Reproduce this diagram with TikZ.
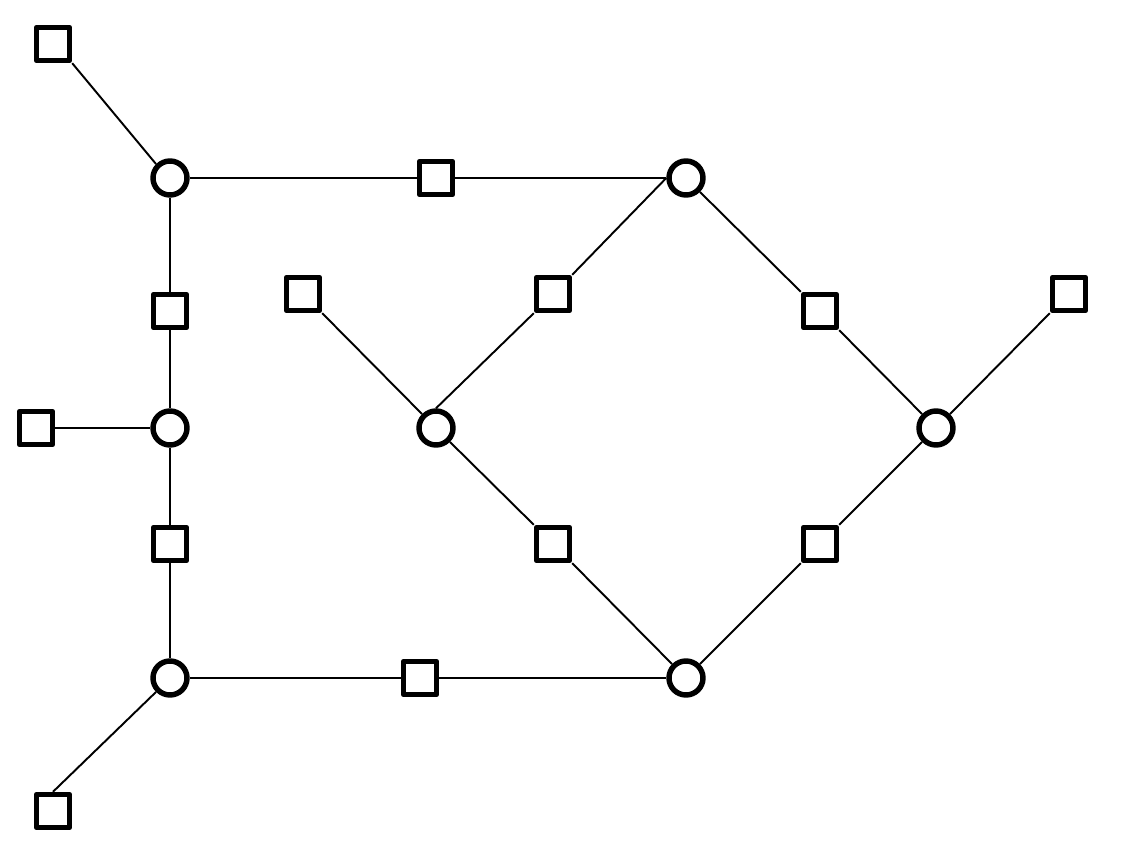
\documentclass[tikz,border=0pt]{standalone}
\begin{document}
\begin{tikzpicture}[x=0.02cm,y=-0.02cm,
  var/.style={draw,circle,line width=3.1pt,fill=white,inner sep=0pt,minimum size=0.68cm},
  fac/.style={draw,rectangle,line width=3.1pt,line join=round,fill=white,inner sep=0pt,minimum size=0.66cm},
  edge/.style={line width=1.1pt}]
\useasboundingbox (0,0) rectangle (1123,864);
\node[var] (x1) at (170,178) {};
\node[var] (x2) at (170,428) {};
\node[var] (x3) at (170,678) {};
\node[var] (x4) at (686,178) {};
\node[var] (x5) at (436,428) {};
\node[var] (x6) at (936,428) {};
\node[var] (x7) at (686,678) {};
\node[fac] (f1) at (53,44) {};
\node[fac] (f2) at (436,178) {};
\node[fac] (f3) at (170,311) {};
\node[fac] (f4) at (36,428) {};
\node[fac] (f5) at (170,544) {};
\node[fac] (f6) at (53,811) {};
\node[fac] (f7) at (420,678) {};
\node[fac] (f8) at (303,294) {};
\node[fac] (f9) at (553,294) {};
\node[fac] (f10) at (820,311) {};
\node[fac] (f11) at (1069,294) {};
\node[fac] (f12) at (553,544) {};
\node[fac] (f13) at (820,544) {};
\draw[edge] (f1.south east) -- (x1.north west);
\draw[edge] (x1) -- (f2) -- (x4);
\draw[edge] (x1) -- (f3) -- (x2);
\draw[edge] (f4) -- (x2);
\draw[edge] (x2) -- (f5) -- (x3);
\draw[edge] (x3.south west) -- (f6.north);
\draw[edge] (x3) -- (f7) -- (x7);
\draw[edge] (f8.south east) -- (x5.north west);
\draw[edge] (x5.north) -- (f9.south west);
\draw[edge] (f9.north east) -- (x4.west);
\draw[edge] (x4.south east) -- (f10.north west);
\draw[edge] (f10.south east) -- (x6.north west);
\draw[edge] (x6.north east) -- (f11.south west);
\draw[edge] (x5.south east) -- (f12.north west);
\draw[edge] (f12.south east) -- (x7.north west);
\draw[edge] (x7.north east) -- (f13.south west);
\draw[edge] (f13.north east) -- (x6.south west);
\end{tikzpicture}
\end{document}
